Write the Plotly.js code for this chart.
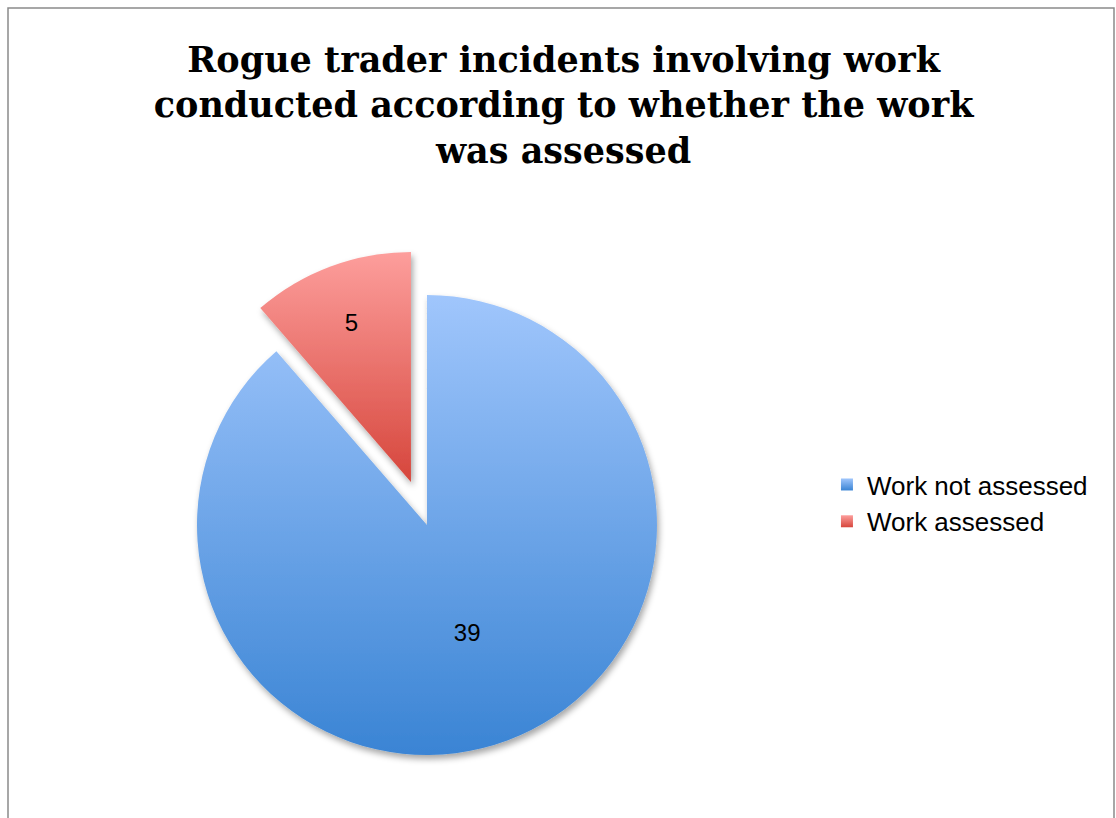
<!DOCTYPE html>
<html>
<head>
<meta charset="utf-8">
<script src="https://cdn.plot.ly/plotly-3.0.1.min.js"></script>
<style>html,body{margin:0;padding:0;background:#fff;}#chart{width:1116px;height:818px;}</style>
</head>
<body>
<div id="chart"></div>
<script>
const categories = ["Work not assessed", "Work assessed"];
const values = [39, 5];
const pulls = [0, 0.2];
const colors = ["#6fa6ec", "#f08480"];
const titleText = "Rogue trader incidents involving work<br>conducted according to whether the work<br>was assessed";

const trace = {
  type: "pie",
  labels: categories,
  values: values,
  pull: pulls,
  sort: false,
  direction: "clockwise",
  rotation: 0,
  textinfo: "value",
  textposition: "inside",
  insidetextorientation: "horizontal",
  textfont: {family: "Liberation Sans, Arial, sans-serif", size: 24, color: "#000"},
  marker: {colors: colors, line: {width: 0}},
  domain: {x: [0.1353, 0.6299], y: [0.0208, 0.6956]},
  hoverinfo: "label+value"
};

const layout = {
  width: 1116, height: 818,
  margin: {l: 0, r: 0, t: 0, b: 0},
  paper_bgcolor: "#fff",
  title: {
    text: titleText,
    font: {family: "DejaVu Serif, serif", size: 35, color: "#000", weight: "bold"},
    x: 0.505, xanchor: "center", y: 0.912, yanchor: "top"
  },
  showlegend: true,
  legend: {
    x: 0.741, xanchor: "left", y: 0.385, yanchor: "middle",
    font: {family: "Liberation Sans, Arial, sans-serif", size: 26, color: "#000"},
    itemwidth: 30, tracegroupgap: 0
  },
  shapes: [{
    type: "rect", xref: "paper", yref: "paper",
    x0: 8 / 1116, x1: 1114 / 1116, y0: -0.05, y1: 1 - 8 / 818,
    line: {color: "#8a8a8a", width: 1.5}, fillcolor: "rgba(0,0,0,0)", layer: "below"
  }]
};

function addGradients(gd) {
  const svg = gd.querySelector("svg.main-svg");
  if (!svg) return;
  const ns = "http://www.w3.org/2000/svg";
  let defs = svg.querySelector("defs");
  if (!defs) { defs = document.createElementNS(ns, "defs"); svg.insertBefore(defs, svg.firstChild); }
  if (!svg.querySelector("#gBlue")) {
    const mk = (id, top, bot) => {
      const g = document.createElementNS(ns, "linearGradient");
      g.setAttribute("id", id); g.setAttribute("x1", "0"); g.setAttribute("y1", "0");
      g.setAttribute("x2", "0"); g.setAttribute("y2", "1");
      const s1 = document.createElementNS(ns, "stop"); s1.setAttribute("offset", "0"); s1.setAttribute("stop-color", top);
      const s2 = document.createElementNS(ns, "stop"); s2.setAttribute("offset", "1"); s2.setAttribute("stop-color", bot);
      g.appendChild(s1); g.appendChild(s2); defs.appendChild(g);
    };
    mk("gBlue", "#a0c6fc", "#3a84d4");
    mk("gRed", "#fd9e9c", "#d6463c");
    const f = document.createElementNS(ns, "filter");
    f.setAttribute("id", "pieShadow");
    f.setAttribute("x", "-10%"); f.setAttribute("y", "-10%");
    f.setAttribute("width", "130%"); f.setAttribute("height", "130%");
    const ds = document.createElementNS(ns, "feDropShadow");
    ds.setAttribute("dx", "2"); ds.setAttribute("dy", "4");
    ds.setAttribute("stdDeviation", "3");
    ds.setAttribute("flood-color", "#000"); ds.setAttribute("flood-opacity", "0.35");
    f.appendChild(ds); defs.appendChild(f);
  }
  const ids = ["gBlue", "gRed"];
  gd.querySelectorAll("g.slice path.surface").forEach((p, i) => {
    p.style.fill = "url(#" + ids[i % 2] + ")";
    p.setAttribute("filter", "url(#pieShadow)");
  });
  gd.querySelectorAll("g.legend g.traces").forEach((t, i) => {
    t.querySelectorAll("path.legendpie").forEach(p => { p.style.fill = "url(#" + ids[i % 2] + ")"; });
  });
}

Plotly.newPlot("chart", [trace], layout, {displayModeBar: false, staticPlot: true}).then(gd => {
  addGradients(gd);
  gd.on("plotly_afterplot", () => addGradients(gd));
});
</script>
</body>
</html>
